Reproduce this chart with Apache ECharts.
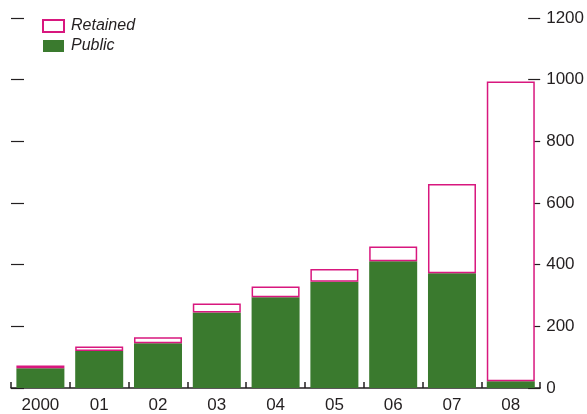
<!DOCTYPE html>
<html>
<head>
    <meta charset="utf-8">
    <title>Public and Retained</title>
    <script src="https://cdn.jsdelivr.net/npm/echarts@6/dist/echarts.min.js"></script>
    <style>
        html, body { margin: 0; padding: 0; background: #fff; }
    </style>
</head>
<body>
<div id="main" style="width: 587px;height:414px;"></div>
<script type="text/javascript">
    var years = ['2000', '01', '02', '03', '04', '05', '06', '07', '08'];
    var publicVals = [64, 120, 145, 245, 294, 345, 411, 372, 22];
    var retainedVals = [9, 15, 20, 29, 35, 41, 48, 290, 972];
    var yTicks = [0, 200, 400, 600, 800, 1000, 1200];

    var ink = '#231f20';
    var green = '#3a7a2e';
    var magenta = '#d8177e';
    var font = '"Liberation Sans", Arial, sans-serif';

    var myChart = echarts.init(document.getElementById('main'));

    myChart.setOption({
        animation: false,
        textStyle: { fontFamily: font },
        grid: { left: 11, right: 43, top: 18, bottom: 24, containLabel: false },
        legend: {
            orient: 'vertical',
            left: 42,
            top: 18,
            padding: 0,
            itemWidth: 21,
            itemHeight: 12,
            itemGap: 4,
            textStyle: { fontFamily: font, fontSize: 16, fontStyle: 'italic', color: ink, padding: [0, 0, 0, 2] },
            data: [
                { name: 'Retained', icon: 'rect' },
                { name: 'Public', icon: 'rect' }
            ]
        },
        xAxis: {
            type: 'category',
            data: years,
            axisLine: { show: true, lineStyle: { color: ink, width: 1.5 } },
            axisTick: { show: true, inside: true, length: 6, lineStyle: { color: ink, width: 1.5 } },
            axisLabel: { color: ink, fontSize: 17, margin: 9 },
            splitLine: { show: false }
        },
        yAxis: [{
            type: 'value',
            position: 'right',
            min: yTicks[0],
            max: yTicks[yTicks.length - 1],
            interval: 200,
            axisLine: { show: false },
            axisTick: { show: true, inside: true, length: 12, lineStyle: { color: ink, width: 1.2 } },
            axisLabel: { color: ink, fontSize: 17, margin: 6, formatter: function (v) { return String(v); } },
            splitLine: { show: false }
        }, {
            type: 'value',
            position: 'left',
            min: yTicks[0],
            max: yTicks[yTicks.length - 1],
            interval: 200,
            axisLine: { show: false },
            axisTick: { show: true, inside: true, length: 13, lineStyle: { color: ink, width: 1.2 } },
            axisLabel: { show: false },
            splitLine: { show: false }
        }],
        series: [{
            name: 'Public',
            type: 'bar',
            stack: 'total',
            barWidth: 48,
            data: publicVals,
            itemStyle: { color: green }
        }, {
            name: 'Retained',
            type: 'bar',
            stack: 'total',
            barWidth: 48,
            data: retainedVals,
            itemStyle: { color: '#ffffff', borderColor: magenta, borderWidth: 1.5 }
        }]
    });
</script>
</body>
</html>
